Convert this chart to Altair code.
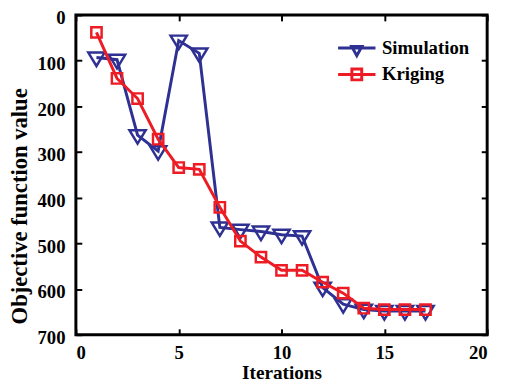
import altair as alt
import pandas as pd

iterations = list(range(1, 18))
simulation = [93, 98, 263, 298, 56, 84, 465, 470, 474, 481, 484, 597, 633, 645, 648, 648, 648]
kriging = [38, 139, 183, 272, 334, 338, 421, 495, 530, 559, 559, 585, 609, 642, 645, 645, 645]
series_names = ["Simulation", "Kriging"]
series_colors = ["#2E3192", "#ED1C24"]
x_ticks = [0, 5, 10, 15, 20]
y_ticks = [0, 100, 200, 300, 400, 500, 600, 700]

FONT = "'Liberation Serif', 'Times New Roman', Times, serif"
TRI = "M-1,-0.6L1,-0.6L0,1.05Z"
SQR = "M-1,-1H1V1H-1Z"
LEG_TRI = "M-1.9,0H1.9M-0.52,-0.15L0.52,-0.15L0,0.8Z"
LEG_SQR = "M-1.9,0H1.9M-0.5,-0.55H0.5V0.55H-0.5Z"

sim_df = pd.DataFrame({"Iterations": iterations, "value": simulation, "series": series_names[0]})
kri_df = pd.DataFrame({"Iterations": iterations, "value": kriging, "series": series_names[1]})
all_df = pd.concat([sim_df, kri_df], ignore_index=True)

xs = alt.Scale(domain=[0, 20], nice=False)
ys = alt.Scale(domain=[0, 700], reverse=True, nice=False)

x_bottom = alt.Axis(orient="bottom", values=x_ticks, tickSize=6, offset=-6, tickWidth=2,
                    tickColor="black", domain=False, grid=False, labelPadding=9,
                    labelFont=FONT, labelFontSize=19, labelFontWeight="bold", labelColor="black",
                    titleFont=FONT, titleFontSize=19.5, titleFontWeight="bold", titleColor="black",
                    titlePadding=1, title="Iterations")
y_left = alt.Axis(orient="left", values=y_ticks, tickSize=6, offset=-6, tickWidth=2,
                  tickColor="black", domain=False, grid=False, labelPadding=11, labelOffset=3,
                  labelFont=FONT, labelFontSize=19, labelFontWeight="bold", labelColor="black",
                  titleFont=FONT, titleFontSize=23, titleFontWeight="bold", titleColor="black",
                  titlePadding=6, titleY=194, title="Objective function value")
x_top = alt.Axis(orient="top", values=x_ticks, tickSize=6, offset=-6, tickWidth=2,
                 tickColor="black", domain=False, grid=False, labels=False, title=None)
y_right = alt.Axis(orient="right", values=y_ticks, tickSize=6, offset=-6, tickWidth=2,
                   tickColor="black", domain=False, grid=False, labels=False, title=None)


def series_layers(df, color, shape, size):
    line = alt.Chart(df).mark_line(color=color, strokeWidth=3).encode(
        x=alt.X("Iterations:Q", scale=xs, axis=None),
        y=alt.Y("value:Q", scale=ys, axis=None),
    )
    pts = alt.Chart(df).mark_point(shape=shape, size=size, filled=False, color=color,
                                   strokeWidth=2.5, opacity=1).encode(
        x=alt.X("Iterations:Q", scale=xs, axis=None),
        y=alt.Y("value:Q", scale=ys, axis=None),
    )
    return line, pts


sim_line, sim_pts = series_layers(sim_df, series_colors[0], TRI, 275)
kri_line, kri_pts = series_layers(kri_df, series_colors[1], SQR, 110)

axes_layer = alt.Chart(sim_df).mark_point(opacity=0).encode(
    x=alt.X("Iterations:Q", scale=xs, axis=x_bottom),
    y=alt.Y("value:Q", scale=ys, axis=y_left),
)

leg = alt.Legend(orient="none", legendX=274, legendY=22, title=None,
                 symbolSize=400, symbolStrokeWidth=3,
                 labelFont=FONT, labelFontSize=19, labelFontWeight="bold",
                 labelColor="black", labelOffset=14, rowPadding=1)

legend_layer = alt.Chart(all_df).mark_point(opacity=0, filled=False, strokeWidth=3).encode(
    x=alt.X("Iterations:Q", scale=xs, axis=x_top),
    y=alt.Y("value:Q", scale=ys, axis=y_right),
    color=alt.Color("series:N", scale=alt.Scale(domain=series_names, range=series_colors),
                    legend=leg),
    shape=alt.Shape("series:N", scale=alt.Scale(domain=series_names, range=[LEG_TRI, LEG_SQR]),
                    legend=leg),
)

chart = alt.layer(axes_layer, legend_layer, sim_line, sim_pts, kri_line, kri_pts).resolve_axis(
    x="independent", y="independent"
).properties(
    width=418, height=325,
    autosize=alt.AutoSizeParams(type="none"),
    padding={"left": 69, "top": 4, "right": 10, "bottom": 46},
    background="white",
).configure_view(stroke="black", strokeWidth=3)

chart.save("out.html", embed_options={"renderer": "svg", "actions": False})
